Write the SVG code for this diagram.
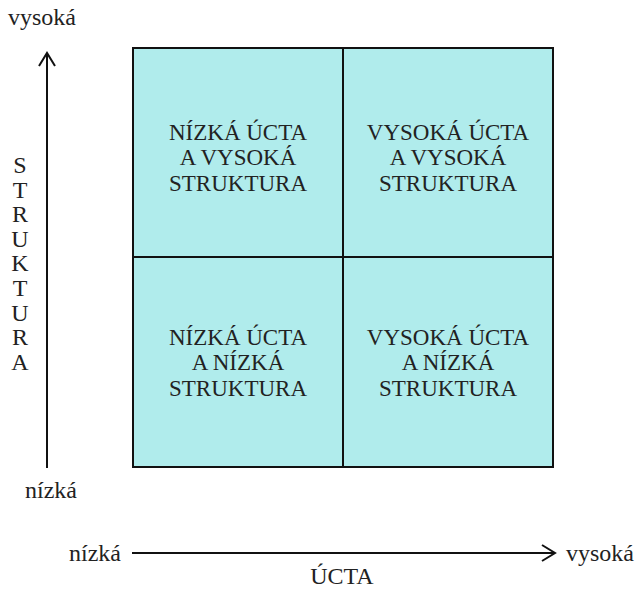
<svg xmlns="http://www.w3.org/2000/svg" width="635" height="590" viewBox="0 0 635 590">
  <style>
    .cell { fill: #b0ecec; stroke: #111; stroke-width: 2; }
    text { fill: #222; }
    .mid { text-anchor: middle; }
    .axis { stroke: #111; stroke-width: 2; fill: none; }
  </style>

  <!-- quadrant grid -->
  <g font-family="Liberation Serif, Times New Roman, serif" font-size="23">
    <g id="cell-low-high">
      <rect class="cell" x="133" y="48" width="210" height="209"/>
      <text class="mid" x="238" y="140">NÍZKÁ ÚCTA</text>
      <text class="mid" x="238" y="165">A VYSOKÁ</text>
      <text class="mid" x="238" y="191">STRUKTURA</text>
    </g>
    <g id="cell-high-high">
      <rect class="cell" x="343" y="48" width="210" height="209"/>
      <text class="mid" x="448" y="140">VYSOKÁ ÚCTA</text>
      <text class="mid" x="448" y="165">A VYSOKÁ</text>
      <text class="mid" x="448" y="191">STRUKTURA</text>
    </g>
    <g id="cell-low-low">
      <rect class="cell" x="133" y="257" width="210" height="210"/>
      <text class="mid" x="238" y="345">NÍZKÁ ÚCTA</text>
      <text class="mid" x="238" y="370">A NÍZKÁ</text>
      <text class="mid" x="238" y="396">STRUKTURA</text>
    </g>
    <g id="cell-high-low">
      <rect class="cell" x="343" y="257" width="210" height="210"/>
      <text class="mid" x="448" y="345">VYSOKÁ ÚCTA</text>
      <text class="mid" x="448" y="370">A NÍZKÁ</text>
      <text class="mid" x="448" y="396">STRUKTURA</text>
    </g>
  </g>

  <!-- axes -->
  <g id="connectors">
    <line class="axis" x1="47" y1="468" x2="47" y2="53"/>
    <polyline class="axis" points="39,66 47,53 55,66"/>
    <line class="axis" x1="132" y1="553" x2="555" y2="553"/>
    <polyline class="axis" points="542,545 555,553 542,561"/>
  </g>

  <g font-family="Liberation Serif, Times New Roman, serif" font-size="24">
    <!-- vertical axis labels -->
    <g id="axis-y">
      <text x="8" y="25">vysoká</text>
      <text x="25" y="498">nízká</text>
      <text class="mid" x="20" y="173">S</text>
      <text class="mid" x="20" y="198">T</text>
      <text class="mid" x="20" y="222">R</text>
      <text class="mid" x="20" y="247">U</text>
      <text class="mid" x="20" y="271">K</text>
      <text class="mid" x="20" y="296">T</text>
      <text class="mid" x="20" y="321">U</text>
      <text class="mid" x="20" y="345">R</text>
      <text class="mid" x="20" y="370">A</text>
    </g>

    <!-- horizontal axis labels -->
    <g id="axis-x">
      <text x="69" y="561">nízká</text>
      <text x="566" y="561">vysoká</text>
      <text class="mid" x="342" y="584">ÚCTA</text>
    </g>
  </g>
</svg>
